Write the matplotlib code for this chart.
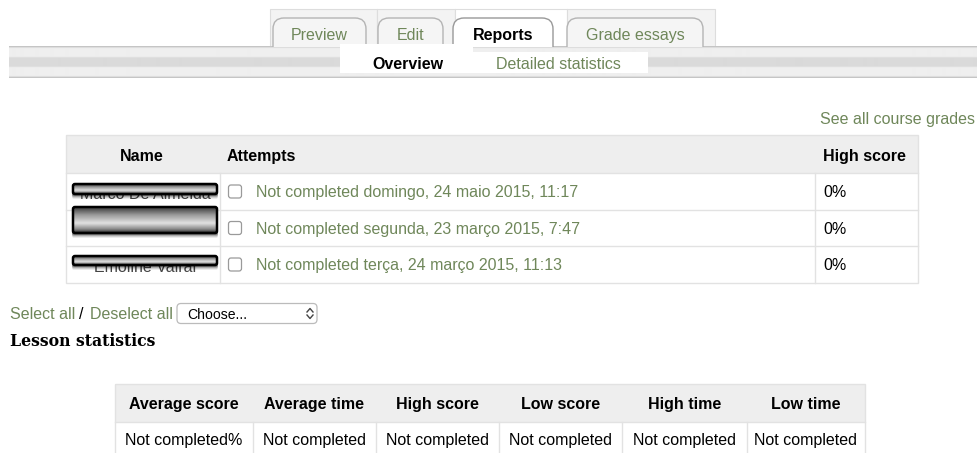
import numpy as np
import matplotlib
matplotlib.use('Agg')
import matplotlib.pyplot as plt
from matplotlib.patches import Rectangle, FancyBboxPatch, PathPatch
from matplotlib.path import Path
from matplotlib.colors import LinearSegmentedColormap

# Page content
tabs = ['Preview', 'Edit', 'Reports', 'Grade essays']
active_tab = 'Reports'
subtabs = ['Overview', 'Detailed statistics']
grades_link = 'See all course grades'

attempt_cols = ['Name', 'Attempts', 'High score']
hidden_names = ['Marco De Almeida', '', 'Emoline Vairal']
attempt_text = ['Not completed domingo, 24 maio 2015, 11:17',
                'Not completed segunda, 23 março 2015, 7:47',
                'Not completed terça, 24 março 2015, 11:13']
high_scores = ['0%', '0%', '0%']

select_links = ['Select all', 'Deselect all']
select_choice = 'Choose...'
stats_title = 'Lesson statistics'
stats_cols = ['Average score', 'Average time', 'High score', 'Low score', 'High time', 'Low time']
stats_vals = ['Not completed%', 'Not completed', 'Not completed', 'Not completed',
              'Not completed', 'Not completed']

W, H = 977, 453
GREEN = '#6f875a'
LINE = '#e2e2e2'
HEAD = '#eeeeee'
FONT = 'Liberation Sans'
PX = 16

fig = plt.figure(figsize=(W / 100, H / 100), dpi=100)
ax = fig.add_axes([0, 0, 1, 1])
ax.axis('off')


def txt(x, y, s, px=PX, **kw):
    # y is the visual middle of the capitals, text is put on its baseline
    kw.setdefault('family', FONT)
    ax.text(x, y + 0.36 * px, s, fontsize=px * 0.72, va='baseline', **kw)


def vgrad(x0, x1, y0, y1, colors, stops=None, z=1):
    cmap = LinearSegmentedColormap.from_list('g', list(zip(stops, colors)) if stops else colors)
    g = np.linspace(0, 1, 64).reshape(-1, 1)
    ax.imshow(g, cmap=cmap, extent=(x0, x1, y1, y0), origin='upper', aspect='auto', zorder=z,
              interpolation='bilinear')


def tab_shape(x0, x1, yt, yb, r, fc, ec, z):
    verts = [(x0, yb), (x0, yt + r), (x0, yt), (x0 + r, yt), (x1 - r, yt), (x1, yt),
             (x1, yt + r), (x1, yb)]
    codes = [Path.MOVETO, Path.LINETO, Path.CURVE3, Path.CURVE3, Path.LINETO, Path.CURVE3,
             Path.CURVE3, Path.LINETO]
    ax.add_patch(PathPatch(Path(verts, codes), fc=fc, ec=ec, lw=1.0, zorder=z))


# ---- tab row ----
cells = [(270, 377), (377, 455), (455, 567), (567, 715)]
tab_x = [(273, 366), (378, 443), (453, 553), (567, 703)]
for (c0, c1), (t0, t1), name in zip(cells, tab_x, tabs):
    on = name == active_tab
    ax.add_patch(Rectangle((c0, 9), c1 - c0, 38, fc='white' if on else '#f3f3f3',
                           ec='#dddddd', lw=0.8, zorder=1))
    tab_shape(t0, t1, 18, 47, 11, 'white' if on else '#f5f5f5', '#999999' if on else '#b4b4b4', 3)
    txt((t0 + t1) / 2, 34, name, ha='center', color='black' if on else GREEN,
        weight='bold' if on else 'normal', zorder=4)

# sub-tab bar
vgrad(9, W, 46, 78, ['#bdbdbd', '#efefef', '#efefef', '#dadada', '#dadada', '#efefef',
                     '#efefef', '#bdbdbd'],
      [0, 0.06, 0.33, 0.36, 0.64, 0.67, 0.94, 1], z=2)
ax.add_patch(Rectangle((340, 44), 133, 29, fc='white', ec='none', zorder=3))
ax.add_patch(Rectangle((473, 52), 175, 21, fc='white', ec='none', zorder=3))
txt(408, 63, subtabs[0], ha='center', weight='bold', zorder=4)
txt(558, 63, subtabs[1], ha='center', color=GREEN, zorder=4)

txt(975, 118, grades_link, ha='right', color=GREEN)

# ---- attempts table ----
tx0, tx1 = 66, 918
col_x = [66, 220, 815, 918]
row_y = [135, 173, 210, 246, 283]
ax.add_patch(Rectangle((tx0, row_y[0]), tx1 - tx0, row_y[1] - row_y[0], fc=HEAD, ec='none', zorder=1))
ax.add_patch(Rectangle((tx0, row_y[0]), tx1 - tx0, row_y[-1] - row_y[0], fc='none', ec=LINE,
                       lw=1, zorder=2))
for y in row_y[1:-1]:
    ax.plot([tx0, tx1], [y, y], color=LINE, lw=1, zorder=2)
for x in col_x[1:-1]:
    ax.plot([x, x], [row_y[1], row_y[-1]], color=LINE, lw=1, zorder=2)

txt(142, 155, attempt_cols[0], ha='center', weight='bold')
txt(227, 155, attempt_cols[1], ha='left', weight='bold')
txt(823, 155, attempt_cols[2], ha='left', weight='bold')

# black-out boxes over student names
redact = [(184, 194), (207, 233), (256, 265)]
for i in range(len(attempt_text)):
    yc = (row_y[i + 1] + row_y[i + 2]) / 2
    if hidden_names[i]:
        txt(145, yc + 2, hidden_names[i], ha='center', color='#444444', zorder=3)
    r0, r1 = redact[i]
    for k, a in zip([5, 4, 3, 2], [0.08, 0.12, 0.18, 0.25]):
        ax.add_patch(FancyBboxPatch((73 - 1, r0 + k), 144 + 2, r1 - r0,
                                    boxstyle='round,pad=0,rounding_size=2', fc='black',
                                    ec='none', alpha=a, zorder=4))
    vgrad(73, 217, r0, r1, ['#3a3a3a', '#9a9a9a', '#e2e2e2', '#8c8c8c', '#2a2a2a'],
          [0, 0.3, 0.62, 0.85, 1], z=5)
    ax.add_patch(FancyBboxPatch((73, r0), 144, r1 - r0, boxstyle='round,pad=0,rounding_size=2',
                                fc='none', ec='black', lw=1.8, zorder=6))
    # checkbox
    ax.add_patch(FancyBboxPatch((228.5, yc - 6.5), 13, 13, boxstyle='round,pad=0,rounding_size=2.5',
                                fc='white', ec='#9a9a9a', lw=0.9, zorder=3))
    txt(256, yc, attempt_text[i], ha='left', color=GREEN)
    txt(823, yc, high_scores[i], ha='left')

# ---- bulk select ----
txt(10, 313, select_links[0], ha='left', color=GREEN)
txt(79, 313, '/', ha='left', color='black')
txt(90, 313, select_links[1], ha='left', color=GREEN)
ax.add_patch(FancyBboxPatch((177, 303.5), 140, 20, boxstyle='round,pad=0,rounding_size=4',
                            fc='white', ec='#bbbbbb', lw=0.9, zorder=2))
txt(187, 313.5, select_choice, px=14, ha='left', zorder=3)
ax.plot([307, 310, 313], [312, 308.5, 312], color='#444444', lw=1.0, zorder=3)
ax.plot([307, 310, 313], [315, 318.5, 315], color='#444444', lw=1.0, zorder=3)

txt(10, 340, stats_title, px=15.8, ha='left', family='DejaVu Serif', weight='bold')

# ---- lesson statistics table ----
sx = [115, 253, 376, 499, 622, 747, 865]
sy0, sy1, sy2 = 384, 422, 460
ax.add_patch(Rectangle((sx[0], sy0), sx[-1] - sx[0], sy1 - sy0, fc=HEAD, ec='none', zorder=1))
ax.add_patch(Rectangle((sx[0], sy0), sx[-1] - sx[0], sy2 - sy0, fc='none', ec=LINE, lw=1, zorder=2))
ax.plot([sx[0], sx[-1]], [sy1, sy1], color=LINE, lw=1, zorder=2)
for x in sx[1:-1]:
    ax.plot([x, x], [sy1, sy2], color=LINE, lw=1, zorder=2)
for i, (c, v) in enumerate(zip(stats_cols, stats_vals)):
    xc = (sx[i] + sx[i + 1]) / 2
    txt(xc, 403, c, ha='center', weight='bold')
    txt(xc, 439, v, ha='center')

ax.set_xlim(0, W)
ax.set_ylim(H, 0)
fig.savefig('out.png', dpi=100, facecolor='white')
